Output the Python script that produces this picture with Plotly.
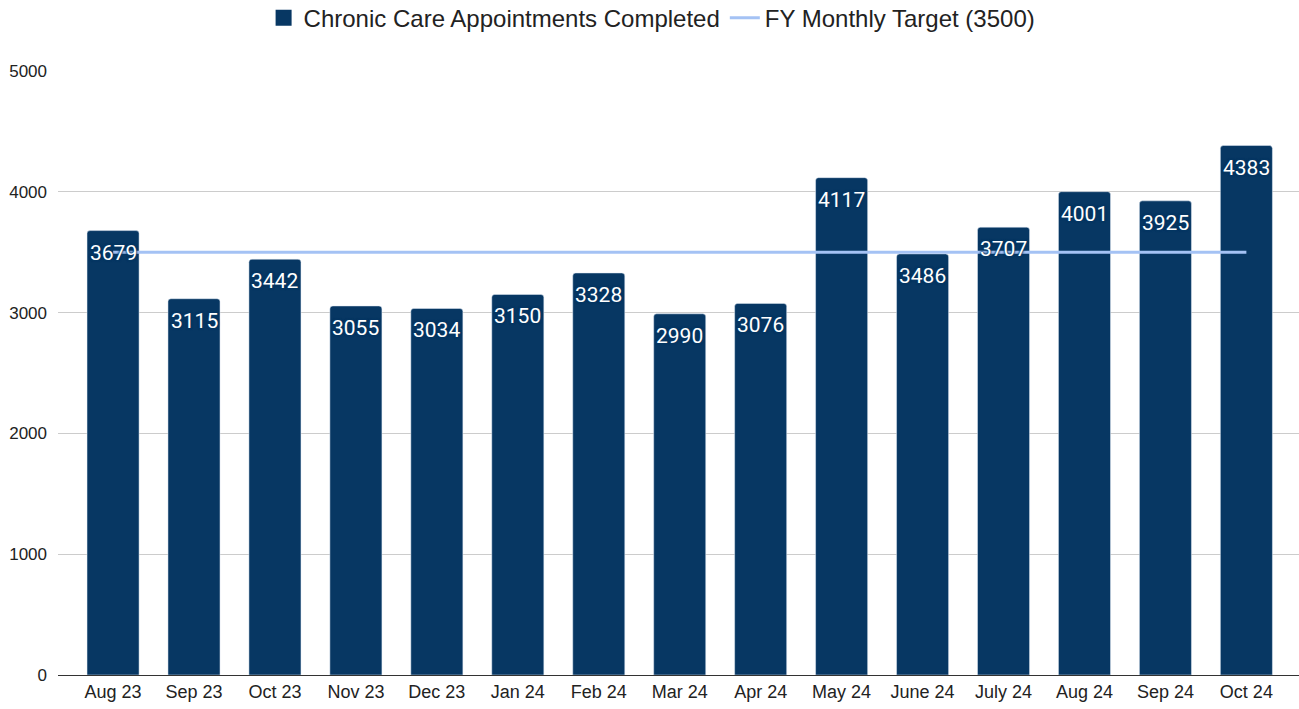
import plotly.graph_objects as go

months = ["Aug 23", "Sep 23", "Oct 23", "Nov 23", "Dec 23", "Jan 24", "Feb 24", "Mar 24",
          "Apr 24", "May 24", "June 24", "July 24", "Aug 24", "Sep 24", "Oct 24"]
completed = [3679, 3115, 3442, 3055, 3034, 3150, 3328, 2990, 3076, 4117, 3486, 3707, 4001, 3925, 4383]
target = [3500] * len(months)

BAR_COLOR = "#073763"
LINE_COLOR = "#a4c2f4"

fig = go.Figure()
fig.add_trace(go.Bar(
    x=months, y=completed, name="Chronic Care Appointments Completed", showlegend=False,
    marker=dict(color=BAR_COLOR, cornerradius=3),
))
# legend proxy with square symbol
fig.add_trace(go.Scatter(
    x=[None], y=[None], mode="markers", name="Chronic Care Appointments Completed",
    marker=dict(symbol="square", size=18, color=BAR_COLOR),
))
fig.add_trace(go.Scatter(
    x=months, y=target, name="FY Monthly Target (3500)", mode="lines",
    line=dict(color=LINE_COLOR, width=3),
))
# data labels inside top of bars
for m, v in zip(months, completed):
    fig.add_annotation(
        x=m, y=v, xref="x", yref="y", text=str(v), showarrow=False,
        yanchor="top", yshift=-8,
        font=dict(family="Roboto", size=21, color="white",
                  shadow=f"0 0 2px {BAR_COLOR}, 0 0 2px {BAR_COLOR}, 0 0 3px {BAR_COLOR}"),
    )
fig.update_layout(
    width=1299, height=709,
    margin=dict(l=58, r=0, t=71, b=34, autoexpand=False),
    plot_bgcolor="white", paper_bgcolor="white",
    bargap=0.357,
    font=dict(family="Arial, Liberation Sans", color="#222222"),
    showlegend=True,
    legend=dict(orientation="h", x=0.502, xanchor="center", xref="container",
                y=1.0877, yanchor="middle", yref="paper",
                font=dict(size=24, color="#222222"), traceorder="normal"),
    xaxis=dict(range=[-0.68, 14.65], showgrid=False, showline=True, linecolor="#333333",
               linewidth=1, tickfont=dict(size=18, color="#222222"), ticks="", automargin=False),
    yaxis=dict(range=[0, 5000], dtick=1000, showgrid=True, gridcolor="#cccccc",
               zeroline=False, tickfont=dict(size=17, color="#222222"), ticks="",
               ticklabelstandoff=10, automargin=False),
)
fig.write_html("out.html", config={"displayModeBar": False},
               post_script="document.body.style.margin='0px';")
